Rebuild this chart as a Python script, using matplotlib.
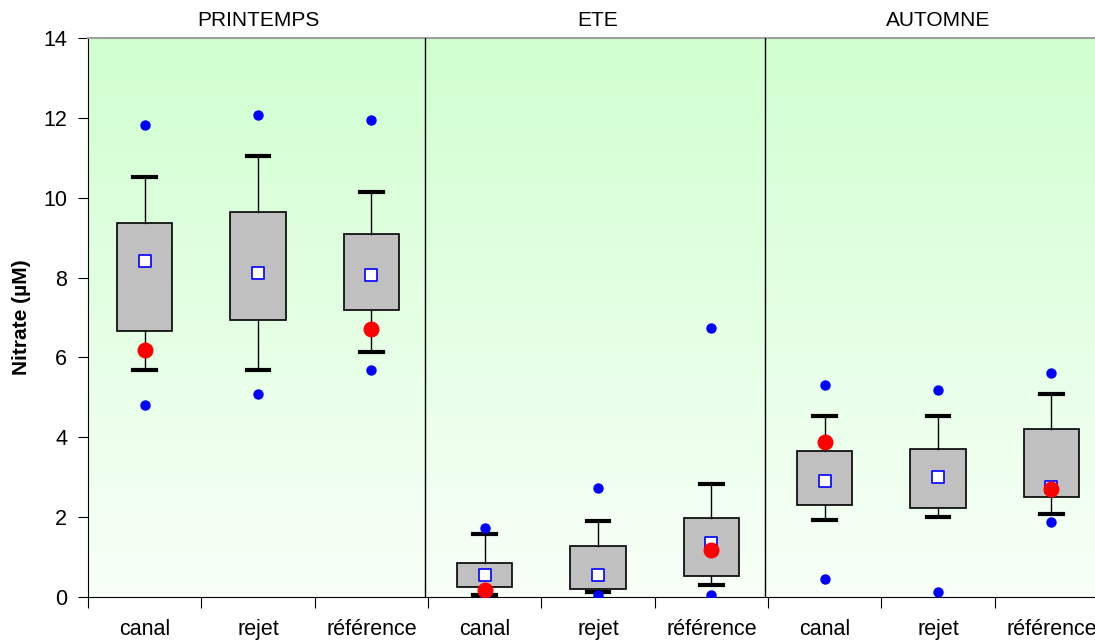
import numpy as np
import matplotlib.pyplot as plt

plt.rcParams['font.family'] = ['Liberation Sans', 'DejaVu Sans']

seasons = ["PRINTEMPS", "ETE", "AUTOMNE"]
sites = ["canal", "rejet", "référence"]

# per box: printemps canal, rejet, ref, ete ..., automne ...
whis_lo = [5.69, 5.69, 6.13, 0.06, 0.12, 0.29, 1.93, 2.00, 2.08]
q1 = [6.67, 6.94, 7.20, 0.24, 0.21, 0.53, 2.31, 2.22, 2.50]
q3 = [9.36, 9.64, 9.08, 0.84, 1.28, 1.98, 3.65, 3.71, 4.20]
whis_hi = [10.53, 11.04, 10.14, 1.59, 1.90, 2.84, 4.53, 4.53, 5.08]
means = [8.42, 8.11, 8.07, 0.56, 0.56, 1.35, 2.90, 3.01, 2.76]
out_lo = [4.81, 5.08, 5.69, 0.01, 0.04, 0.04, 0.44, 0.13, 1.87]
out_hi = [11.82, 12.07, 11.95, 1.73, 2.74, 6.73, 5.31, 5.19, 5.60]
red = [6.19, np.nan, 6.70, 0.18, np.nan, 1.17, 3.88, np.nan, 2.70]

n = len(q1)
pos = np.arange(n) + 0.5

fig = plt.figure(figsize=(10.95, 6.40), dpi=100)
ax = fig.add_axes([88/1095, 43/640, 1020/1095, 559/640])

# background gradient
grad = np.linspace(0, 1, 256).reshape(-1, 1)
top = np.array([208, 255, 208]) / 255
bot = np.array([248, 255, 248]) / 255
img = bot + (top - bot) * grad[..., None]
ax.imshow(img, extent=[0, 1, 0, 1], transform=ax.transAxes, aspect='auto',
          origin='lower', zorder=0)

stats = []
for i in range(n):
    stats.append(dict(med=means[i], q1=q1[i], q3=q3[i],
                      whislo=whis_lo[i], whishi=whis_hi[i], fliers=[]))
ax.bxp(stats, positions=pos, widths=0.49, patch_artist=True, showfliers=False,
       capwidths=0.2,
       boxprops=dict(facecolor='#c0c0c0', edgecolor='black', linewidth=1.2),
       whiskerprops=dict(color='black', linewidth=1),
       capprops=dict(color='black', linewidth=3),
       medianprops=dict(linewidth=0),
       manage_ticks=False)

ax.scatter(pos, out_lo, s=42, color='#0000ff', zorder=4)
ax.scatter(pos, out_hi, s=42, color='#0000ff', zorder=4)
ax.scatter(pos, means, s=75, marker='s', facecolor='white', edgecolor='#0000ff',
           linewidth=1.2, zorder=5)
ax.scatter(pos, red, s=110, color='#ff0000', zorder=6)

for x in [3, 6]:
    ax.axvline(x - 0.025, color='black', linewidth=1, zorder=3)

ax.set_xlim(0, n)
ax.set_ylim(0, 14)
ax.set_yticks(range(0, 15, 2))
ax.set_xticks(range(n + 1))
ax.set_xticklabels([])
ax.set_xticks(pos, minor=True)
ax.set_xticklabels(sites * 3, minor=True, fontsize=15.5)
ax.tick_params(axis='x', which='minor', length=0, pad=16)
ax.tick_params(axis='x', which='major', length=8, direction='out')
ax.tick_params(axis='y', labelsize=15.5, length=7, direction='out', pad=8)
ax.spines['top'].set_color('#a0a0a0')
ax.spines['top'].set_linewidth(1.5)
ax.spines['right'].set_visible(False)
ax.set_ylabel("Nitrate (µM)", fontsize=15, fontweight='bold', labelpad=9)

for k, s in enumerate(seasons):
    ax.text(3 * k + 1.5, 1.031, s, transform=ax.get_xaxis_transform(),
            ha='center', va='center', fontsize=15)

fig.savefig("out.png", dpi=100)
